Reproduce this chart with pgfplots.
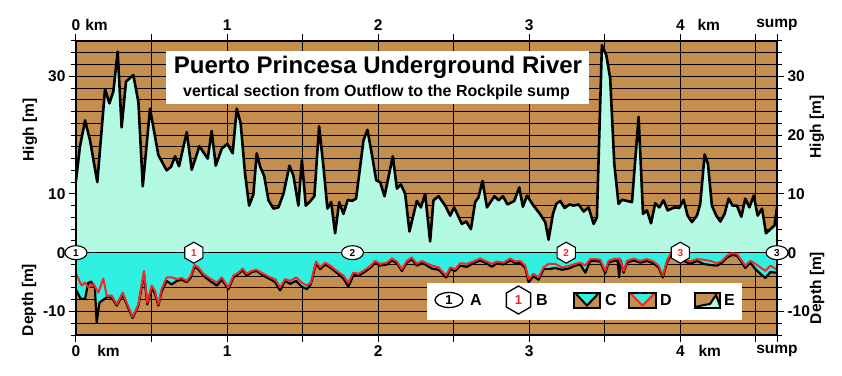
\documentclass[border=0pt]{standalone}
\usepackage{fontspec}
\setmainfont{Liberation Sans}
\usepackage{pgfplots}
\pgfplotsset{compat=1.18}
\usepackage{pgfplotstable}
\usetikzlibrary{shapes.geometric}
\definecolor{rock}{RGB}{196,142,78}
\definecolor{air}{RGB}{180,250,226}
\definecolor{water}{RGB}{48,240,226}
\definecolor{dred}{RGB}{240,40,40}

\pgfplotstableread{
x y
0 12.3
0.026 18
0.06 22.5
0.093 19.1
0.141 12.0
0.192 27.8
0.221 25.4
0.247 27.4
0.276 34.2
0.302 21.3
0.331 29.1
0.38 30.2
0.413 25.6
0.442 11.3
0.49 24.5
0.545 16.6
0.6 14
0.629 14.6
0.656 16.4
0.682 14.7
0.733 20.5
0.766 14.1
0.817 18.1
0.872 16
0.898 20.7
0.925 14.8
0.965 17.7
1.002 18.5
1.037 16.9
1.064 24.5
1.09 22
1.119 13.4
1.146 8.0
1.174 9.9
1.196 16.9
1.219 14.6
1.245 13.1
1.274 8.9
1.307 7.5
1.34 7.7
1.373 10
1.413 14.8
1.439 13.1
1.472 8.0
1.495 15.7
1.521 8
1.545 8.6
1.578 9.6
1.609 21.5
1.638 14.6
1.664 7.5
1.689 8.6
1.715 3.3
1.742 8.6
1.77 6.6
1.799 9
1.826 8.8
1.854 9.2
1.903 19.1
1.929 20.9
1.958 16.8
1.987 12.3
2.013 12
2.042 9.6
2.097 16.4
2.124 10.9
2.15 11.6
2.179 10
2.207 3.6
2.256 8.8
2.283 7.7
2.311 10
2.344 1.9
2.366 8.9
2.4 9.6
2.444 8.0
2.477 6.3
2.503 7.7
2.554 4.9
2.583 5.3
2.614 4.0
2.642 8.6
2.664 9.4
2.691 12.2
2.72 7.7
2.77 9.6
2.797 8.9
2.826 9.6
2.856 8.2
2.901 8.8
2.934 11.1
2.958 7.8
2.985 9.7
3.028 8.0
3.068 6.7
3.106 5.2
3.128 2.2
3.157 6.6
3.179 8.3
3.205 8.8
3.234 7.6
3.267 8.2
3.293 8.0
3.327 8.2
3.36 7.0
3.393 7.7
3.426 4.9
3.448 6.0
3.481 35.3
3.51 33.6
3.536 29.6
3.563 15.1
3.591 8.3
3.614 9.0
3.647 8.8
3.68 8.6
3.724 23.1
3.753 6.6
3.779 7.2
3.806 5.0
3.834 8.4
3.861 7.7
3.889 8.9
3.916 7.2
3.962 7.7
3.993 7.6
4.022 9.0
4.048 6.3
4.077 5.2
4.11 6.3
4.132 8.3
4.161 16.7
4.183 15.1
4.209 8.0
4.238 6.3
4.265 5.3
4.293 6.6
4.32 9.2
4.346 8.0
4.375 8.0
4.404 6.1
4.43 9.2
4.457 7.7
4.486 9.7
4.512 6.3
4.541 7.5
4.567 3.3
4.596 4.0
4.623 4.6
4.64 7.7
}\ceil

\pgfplotstableread{
x y
0 -3.6
0.038 -5.6
0.06 -5.1
0.082 -5.9
0.115 -5.3
0.148 -6.8
0.181 -4.4
0.203 -7.3
0.236 -7.3
0.27 -8.8
0.309 -6.8
0.336 -8.5
0.375 -10.9
0.413 -8.8
0.45 -3.1
0.472 -8.5
0.501 -5.6
0.523 -6.5
0.545 -8.8
0.567 -6.2
0.6 -4.2
0.633 -4.2
0.667 -4.5
0.7 -4.3
0.733 -4.8
0.76 -3.9
0.784 -2.1
0.81 -2.5
0.843 -3.6
0.887 -4.4
0.932 -5.1
0.965 -4.2
1.009 -5.9
1.042 -3.9
1.075 -3.4
1.104 -2.7
1.13 -3.6
1.163 -3.1
1.196 -2.9
1.24 -3.6
1.285 -4.2
1.318 -4.5
1.351 -5.9
1.384 -4.5
1.417 -4.8
1.457 -4.2
1.495 -5.1
1.528 -5.6
1.554 -5.1
1.589 -1.5
1.616 -2.5
1.649 -1.7
1.682 -2.2
1.726 -3.1
1.77 -3.9
1.803 -5.1
1.836 -3.4
1.87 -3.6
1.903 -3.1
1.947 -2.3
1.98 -1.4
2.013 -1.9
2.058 -1.7
2.091 -1.0
2.124 -1.5
2.157 -2.8
2.19 -1.4
2.223 -0.8
2.256 -1.9
2.29 -1.4
2.311 -1.7
2.356 -2.2
2.4 -2.5
2.45 -3.9
2.477 -2.5
2.51 -2.8
2.543 -1.8
2.587 -1.9
2.631 -1.5
2.675 -1.0
2.709 -1.4
2.753 -1.9
2.786 -1.5
2.83 -1.7
2.874 -1.0
2.907 -1.5
2.94 -1.4
2.974 -2.2
2.996 -4.5
3.028 -3.6
3.062 -4.2
3.095 -2.5
3.128 -1.9
3.172 -1.9
3.216 -2.5
3.26 -2.3
3.305 -1.9
3.338 -1.7
3.371 -2.2
3.404 -1.1
3.437 -1.1
3.47 -1.2
3.503 -3.1
3.525 -1.4
3.558 -1.1
3.598 -1.0
3.625 -3.1
3.647 -1.4
3.691 -1.0
3.735 -1.4
3.779 -1.1
3.823 -1.5
3.856 -2.2
3.885 -3.9
3.911 -1.4
3.938 -0.1
3.978 -0.8
4.022 -1.1
4.066 -1.5
4.11 -1.1
4.154 -1.2
4.199 -1.4
4.243 -1.8
4.276 -1.4
4.309 -0.5
4.342 -0.1
4.375 -0.2
4.408 -1.4
4.43 -2.2
4.464 -1.4
4.497 -1.9
4.53 -2.5
4.563 -3.1
4.596 -2.2
4.64 -2.9
}\depthD

\pgfplotstableread{
x y
0 -6.3
0.03 -7.8
0.06 -7.9
0.08 -5.2
0.1 -4.9
0.125 -6.0
0.137 -11.9
0.155 -8.5
0.181 -8.0
0.203 -7.6
0.236 -7.6
0.27 -9.0
0.309 -7.1
0.336 -8.8
0.375 -11.1
0.413 -9.0
0.45 -3.6
0.472 -8.8
0.501 -6.0
0.523 -7.0
0.545 -9.0
0.567 -6.6
0.6 -4.8
0.633 -5.4
0.667 -4.8
0.7 -4.6
0.733 -5.0
0.76 -4.2
0.784 -2.4
0.81 -2.8
0.843 -3.9
0.887 -4.8
0.932 -5.6
0.965 -4.6
1.009 -6.2
1.042 -4.2
1.075 -3.6
1.104 -3.0
1.13 -3.9
1.163 -3.3
1.196 -3.1
1.24 -3.9
1.285 -4.5
1.318 -5.0
1.351 -6.4
1.384 -4.8
1.417 -5.3
1.457 -4.8
1.495 -5.8
1.528 -6.2
1.554 -5.4
1.589 -1.8
1.616 -2.8
1.649 -2.0
1.682 -2.5
1.726 -3.4
1.77 -4.4
1.803 -5.8
1.836 -3.8
1.87 -3.9
1.903 -3.4
1.947 -2.6
1.98 -1.7
2.013 -2.2
2.058 -2.0
2.091 -1.3
2.124 -1.8
2.157 -3.1
2.19 -1.7
2.223 -1.1
2.256 -2.2
2.29 -1.8
2.311 -2.0
2.356 -2.7
2.4 -2.9
2.45 -4.2
2.477 -2.8
2.51 -3.1
2.543 -2.2
2.587 -2.4
2.631 -1.8
2.675 -1.3
2.709 -1.7
2.753 -2.4
2.786 -1.8
2.83 -2.0
2.874 -1.3
2.907 -1.8
2.94 -1.7
2.974 -2.6
2.996 -5.0
3.028 -4.0
3.062 -4.6
3.095 -2.8
3.128 -2.8
3.172 -2.6
3.216 -2.9
3.26 -2.7
3.305 -2.2
3.338 -2.0
3.371 -3.4
3.404 -1.4
3.437 -1.4
3.47 -1.5
3.503 -3.5
3.525 -1.7
3.558 -1.4
3.585 -1.3
3.595 -4.2
3.605 -1.3
3.625 -3.4
3.647 -1.7
3.691 -1.3
3.735 -1.7
3.779 -1.4
3.823 -1.8
3.856 -2.5
3.885 -4.2
3.911 -1.7
3.938 -0.3
3.978 -1.1
4.022 -1.4
4.066 -1.9
4.11 -1.4
4.154 -1.9
4.199 -2.1
4.243 -2.2
4.276 -1.7
4.309 -0.8
4.342 -0.4
4.375 -0.5
4.408 -1.7
4.43 -2.6
4.464 -1.7
4.497 -2.8
4.53 -3.6
4.563 -4.3
4.596 -3.3
4.64 -3.4
}\depthC

\begin{document}
\begin{tikzpicture}
\path[use as bounding box] (-76pt,-40pt) rectangle (766pt,335pt);
\begin{axis}[
  at={(0pt,0pt)}, anchor=south west,
  scale only axis, width=701pt, height=294pt,
  xmin=0, xmax=4.64, ymin=-14, ymax=36,
  axis background/.style={fill=rock},
  axis line style={draw=none},
  tick align=outside,
  major tick length=7pt, minor tick length=5pt,
  tick style={draw=none},
  xticklabel pos=upper, yticklabel pos=right,
  xtick={0,1,2,3,4,4.64},
  xticklabels={0\rlap{\hspace{5pt}km},1,2,3,4\rlap{\hspace{13pt}km},sump},
  ytick={-10,0,10,20,30},
  yticklabels={-10,0,10,20,30},
  tick label style={font=\fontsize{15.5}{16}\selectfont\bfseries},
]
\addplot[draw=none] coordinates {(0,0)};
\end{axis}
\begin{axis}[
  at={(0pt,0pt)}, anchor=south west,
  scale only axis, width=701pt, height=294pt,
  xmin=0, xmax=4.64, ymin=-14, ymax=36,
  clip=false,
  xtick={0,0.5,1,1.5,2,2.5,3,3.5,4,4.5,4.64},
  xticklabels={0\rlap{\hspace{17pt}km},,1,,2,,3,,4\rlap{\hspace{14pt}km},,sump},
  ytick={-10,0,10,30},
  yticklabels={-10,0,10,30},
  minor ytick={-14,-12,...,36},
  ymajorgrids, yminorgrids, xmajorgrids,
  grid style={black, line width=1pt},
  minor grid style={black, line width=1pt},
  tick align=outside,
  major tick length=7pt, minor tick length=5pt,
  tick style={black, line width=1pt},
  axis line style={line width=2.2pt},
  tick label style={font=\fontsize{15.5}{16}\selectfont\bfseries},
]
\addplot[fill=air, draw=none] table {\ceil} \closedcycle;
\addplot[fill=water, draw=none] table {\depthC} \closedcycle;
\addplot[black, line width=1.2pt] coordinates {(0,0) (4.64,0)};
\addplot[black, line width=2.6pt, line join=round] table {\ceil};
\addplot[black, line width=2.2pt, line join=round] table {\depthC};
\addplot[dred, line width=2pt, line join=round] table {\depthD};
\draw[line width=2.2pt] (rel axis cs:0,0) rectangle (rel axis cs:1,1);
% stations A
\addplot[only marks, mark=text, text mark={1}, text mark as node=true,
  text mark style={ellipse, draw=black, line width=1.1pt, fill=white, text=black, inner sep=0pt, minimum width=22pt, minimum height=14pt, font=\fontsize{10}{10}\selectfont\bfseries}]
  coordinates {(0,0)};
\addplot[only marks, mark=text, text mark={2}, text mark as node=true,
  text mark style={ellipse, draw=black, line width=1.1pt, fill=white, text=black, inner sep=0pt, minimum width=22pt, minimum height=14pt, font=\fontsize{10}{10}\selectfont\bfseries}]
  coordinates {(1.83,0)};
\addplot[only marks, mark=text, text mark={3}, text mark as node=true,
  text mark style={ellipse, draw=black, line width=1.1pt, fill=white, text=black, inner sep=0pt, minimum width=22pt, minimum height=14pt, font=\fontsize{10}{10}\selectfont\bfseries}]
  coordinates {(4.64,0)};
% stations B
\addplot[only marks, mark=text, text mark={1}, text mark as node=true,
  text mark style={regular polygon, regular polygon sides=6, shape border rotate=30, draw=black, line width=1.1pt, fill=white, text=dred, inner sep=0pt, minimum size=21pt, font=\fontsize{10}{10}\selectfont\bfseries}]
  coordinates {(0.78,0)};
\addplot[only marks, mark=text, text mark={2}, text mark as node=true,
  text mark style={regular polygon, regular polygon sides=6, shape border rotate=30, draw=black, line width=1.1pt, fill=white, text=dred, inner sep=0pt, minimum size=21pt, font=\fontsize{10}{10}\selectfont\bfseries}]
  coordinates {(3.245,0)};
\addplot[only marks, mark=text, text mark={3}, text mark as node=true,
  text mark style={regular polygon, regular polygon sides=6, shape border rotate=30, draw=black, line width=1.1pt, fill=white, text=dred, inner sep=0pt, minimum size=21pt, font=\fontsize{10}{10}\selectfont\bfseries}]
  coordinates {(4.0,0)};
\end{axis}
% axis titles
\begin{scope}[every node/.style={font=\fontsize{15.5}{16}\selectfont\bfseries, rotate=90}]
\node at (-46pt,205pt) {High [m]};
\node at (-47pt,35pt) {Depth [m]};
\node at (741pt,208pt) {High [m]};
\node at (741pt,47pt) {Depth [m]};
\end{scope}
% title box
\fill[white] (89.5pt,231pt) rectangle (513pt,283.5pt);
\node[anchor=base, font=\fontsize{24}{24}\selectfont\bfseries] at (302pt,261pt) {Puerto Princesa Underground River};
\node[anchor=base, font=\fontsize{16}{16}\selectfont\bfseries] at (300.5pt,238.5pt) {vertical section from Outflow to the Rockpile sump};
% legend
\fill[white] (351pt,15pt) rectangle (666pt,52pt);
\node[ellipse, draw=black, line width=1.3pt, fill=white, inner sep=0pt, minimum width=28pt, minimum height=15pt, font=\fontsize{13}{13}\selectfont\bfseries] at (373pt,35pt) {1};
\node[font=\fontsize{16}{16}\selectfont\bfseries] at (400pt,35pt) {A};
\node[regular polygon, regular polygon sides=6, shape border rotate=30, draw=black, line width=1.3pt, fill=white, inner sep=0pt, minimum size=28pt, text=dred, font=\fontsize{13}{13}\selectfont\bfseries] at (442.5pt,35pt) {1};
\node[font=\fontsize{16}{16}\selectfont\bfseries] at (466pt,35pt) {B};
% C
\fill[rock] (498pt,27pt) rectangle (524pt,42pt);
\fill[water] (498pt,42pt) -- (511pt,29pt) -- (524pt,42pt) -- cycle;
\draw[black, line width=2pt] (500pt,41pt) -- (511pt,29.5pt) -- (522pt,41pt);
\draw[black, line width=1.3pt] (498pt,27pt) rectangle (524pt,42pt);
\node[font=\fontsize{16}{16}\selectfont\bfseries] at (535pt,35pt) {C};
% D
\fill[rock] (553pt,27pt) rectangle (580pt,42pt);
\fill[water] (553pt,42pt) -- (566.5pt,29pt) -- (580pt,42pt) -- cycle;
\draw[dred, line width=2pt] (555pt,41pt) -- (566.5pt,29.5pt) -- (578pt,41pt);
\draw[black, line width=1.3pt] (553pt,27pt) rectangle (580pt,42pt);
\node[font=\fontsize{16}{16}\selectfont\bfseries] at (590pt,35pt) {D};
% E
\fill[rock] (619pt,27pt) rectangle (644pt,42pt);
\fill[air] (619pt,27pt) -- (619pt,28pt) -- (628pt,30pt) -- (634pt,31pt) -- (640pt,40pt) -- (644pt,29pt) -- (644pt,27pt) -- cycle;
\draw[black, line width=2pt] (619pt,28pt) -- (628pt,30pt) -- (634pt,31pt) -- (640pt,40pt) -- (644pt,29pt);
\draw[black, line width=1.3pt] (619pt,27pt) rectangle (644pt,42pt);
\node[font=\fontsize{16}{16}\selectfont\bfseries] at (653.5pt,35pt) {E};
\end{tikzpicture}
\end{document}
